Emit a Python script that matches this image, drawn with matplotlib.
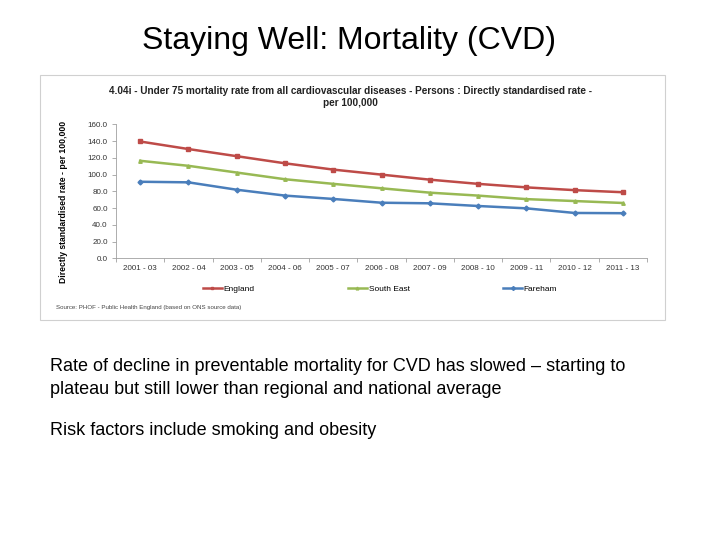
"""Staying Well slide: under 75 CVD mortality rate, England vs South East vs Fareham."""

import matplotlib

matplotlib.use("Agg")
import matplotlib.pyplot as plt
from matplotlib.patches import Rectangle

plt.rcParams["font.family"] = ["Liberation Sans", "DejaVu Sans"]

periods = [
    "2001 - 03", "2002 - 04", "2003 - 05", "2004 - 06", "2005 - 07", "2006 - 08",
    "2007 - 09", "2008 - 10", "2009 - 11", "2010 - 12", "2011 - 13",
]
england = [139.5, 130.5, 122.0, 113.5, 106.0, 100.0, 94.0, 89.0, 84.8, 81.5, 79.0]
south_east = [116.5, 110.5, 102.5, 94.5, 89.0, 83.7, 78.5, 75.0, 70.8, 68.5, 66.2]
fareham = [91.5, 90.8, 82.0, 75.0, 71.0, 66.5, 65.8, 62.6, 59.8, 54.3, 54.0]
y_ticks = [0, 20, 40, 60, 80, 100, 120, 140, 160]

series = [
    ("England", england, "#BE4B48", "s"),
    ("South East", south_east, "#98B954", "^"),
    ("Fareham", fareham, "#4A7EBB", "D"),
]

fig = plt.figure(figsize=(7.2, 5.4), dpi=100)

# slide title and body text
fig.text(0.485, 0.925, "Staying Well: Mortality (CVD)", ha="center", va="center", fontsize=23)
fig.text(0.069, 0.300,
         "Rate of decline in preventable mortality for CVD has slowed \u2013 starting to\n"
         "plateau but still lower than regional and national average",
         ha="left", va="center", fontsize=13, linespacing=1.4)
fig.text(0.069, 0.202, "Risk factors include smoking and obesity",
         ha="left", va="center", fontsize=13)

# pasted chart frame
fig.patches.append(Rectangle((40 / 720, 1 - 320 / 540), 625 / 720, 245 / 540,
                             transform=fig.transFigure, facecolor="none",
                             edgecolor="#D0D0D0", linewidth=0.8, zorder=-1))

ax = fig.add_axes([116 / 720, 1 - 258.5 / 540, 531 / 720, 134.2 / 540])
x = list(range(len(periods)))
for name, vals, color, marker in series:
    ax.plot(x, vals, color=color, linewidth=1.8, marker=marker, markersize=2.5,
            label=name)

ax.set_xlim(-0.5, len(periods) - 0.5)
ax.set_ylim(0, 160)
ax.set_yticks(y_ticks)
ax.set_yticklabels([f"{v:.1f}" for v in y_ticks])
ax.set_xticks(x)
ax.set_xticklabels(periods)
ax.set_xticks([i - 0.5 for i in range(len(periods) + 1)], minor=True)
ax.tick_params(axis="x", which="major", length=0, pad=5, labelsize=5.8, colors="#333333")
ax.tick_params(axis="x", which="minor", length=3, color="#A0A0A0", width=0.6)
ax.tick_params(axis="y", length=3, color="#A0A0A0", width=0.6, labelsize=5.8,
               colors="#333333", pad=3)
for side in ("top", "right"):
    ax.spines[side].set_visible(False)
for side in ("left", "bottom"):
    ax.spines[side].set_color("#A0A0A0")
    ax.spines[side].set_linewidth(0.6)

ax.set_ylabel("Directly standardised rate - per 100,000", fontsize=6.2,
              fontweight="bold", labelpad=14)
ax.yaxis.set_label_coords(-0.09, 0.42)
fig.text(0.487, 0.820,
         "4.04i - Under 75 mortality rate from all cardiovascular diseases - Persons : "
         "Directly standardised rate -\nper 100,000",
         ha="center", va="center", fontsize=7.2, fontweight="bold", color="#222222",
         linespacing=1.3)

ax.legend(loc="upper center", bbox_to_anchor=(0.497, -0.145), ncol=3, frameon=False,
          fontsize=6, handlelength=2.3, handletextpad=0.2, columnspacing=11.2,
          markerscale=0.8)
fig.text(56 / 720, 1 - 308 / 540,
         "Source: PHOF - Public Health England (based on ONS source data)",
         ha="left", va="center", fontsize=4.4, color="#444444")

fig.savefig("out.png", dpi=100)
